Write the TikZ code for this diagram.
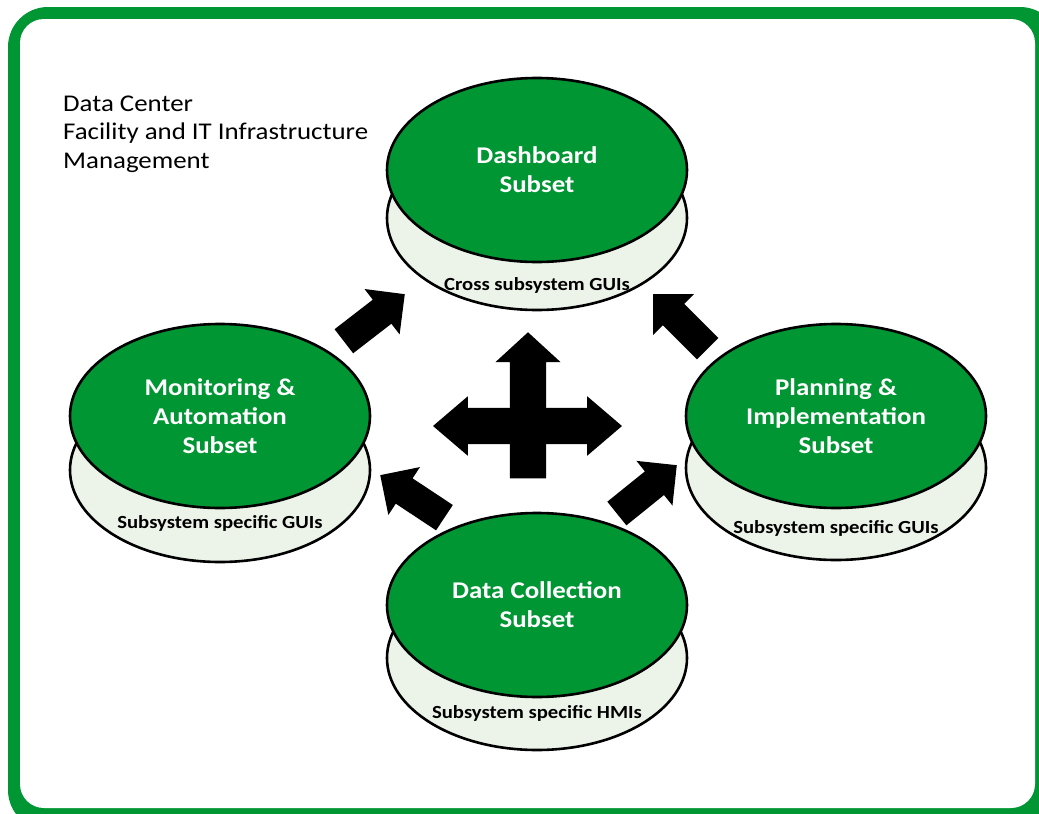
\documentclass[tikz,border=0pt]{standalone}
\usepackage{fontspec}
\setmainfont{Carlito}[FakeStretch=1.12]
\usepackage{xcolor}
\usetikzlibrary{shapes.geometric,shapes.arrows}
\definecolor{subgreen}{RGB}{0,150,51}
\definecolor{basegreen}{RGB}{236,244,233}

\begin{document}
\begin{tikzpicture}[x=1pt,y=-1pt,
  base/.style={ellipse,draw,line width=2.6pt,fill=basegreen,minimum width=300pt,minimum height=184pt,inner sep=0pt},
  subset/.style={base,fill=subgreen,text=white,align=center,font=\fontsize{24}{29}\selectfont\bfseries},
  gui/.style={font=\fontsize{18.5}{22}\selectfont\bfseries},
  blk/.style={single arrow,fill=black,inner xsep=0pt,inner ysep=15pt,minimum height=77pt,single arrow head extend=13.5pt,anchor=tip}]
\useasboundingbox (0,0) rectangle (1039,814);
% frame
\fill[subgreen,rounded corners=40pt] (8,7) rectangle (1060,830);
\fill[white,rounded corners=24pt] (20,19) rectangle (1035,808);
\node[anchor=west,align=left,inner sep=0pt,font=\fontsize{24}{28.5}\selectfont] (title) at (63,134)
  {Data Center\\Facility and IT Infrastructure\\Management};
% subsets
\node[base] (dashb) at (537,218) {};
\node[subset] (dash) at (537,170) {Dashboard\\Subset};
\node[gui] (dashg) at ([yshift=26pt]dashb.south) {Cross subsystem GUIs};
\node[base] (monb) at (220,470) {};
\node[subset] (mon) at (220,416) {Monitoring \&\\Automation\\Subset};
\node[gui] (mong) at ([yshift=40pt]monb.south) {Subsystem specific GUIs};
\node[base] (planb) at (836,468) {};
\node[subset] (plan) at (836,416) {Planning \&\\Implementation\\Subset};
\node[gui] (plang) at ([yshift=33pt]planb.south) {Subsystem specific GUIs};
\node[base] (collb) at (537,658) {};
\node[subset] (coll) at (537,605) {Data Collection\\Subset};
\node[gui] (collg) at ([yshift=38pt]collb.south) {Subsystem specific HMIs};
% arrows
\node[blk,rotate=37.7] (ma) at (405,294) {};
\node[blk,rotate=135] (pa) at (653,294) {};
\node[blk,rotate=146.5] (cm) at (380,475) {};
\node[blk,rotate=38.9] (cp) at (677,465) {};
\node[double arrow,fill=black,inner xsep=0pt,inner ysep=18pt,minimum height=189pt,
  double arrow head extend=11.5pt,double arrow tip angle=81] (lr) at (527.5,426) {};
\node[single arrow,fill=black,inner xsep=0pt,inner ysep=18pt,minimum height=146pt,
  single arrow head extend=14.5pt,single arrow tip angle=95,rotate=90,anchor=tip] (up) at (528,332) {};
\end{tikzpicture}
\end{document}
